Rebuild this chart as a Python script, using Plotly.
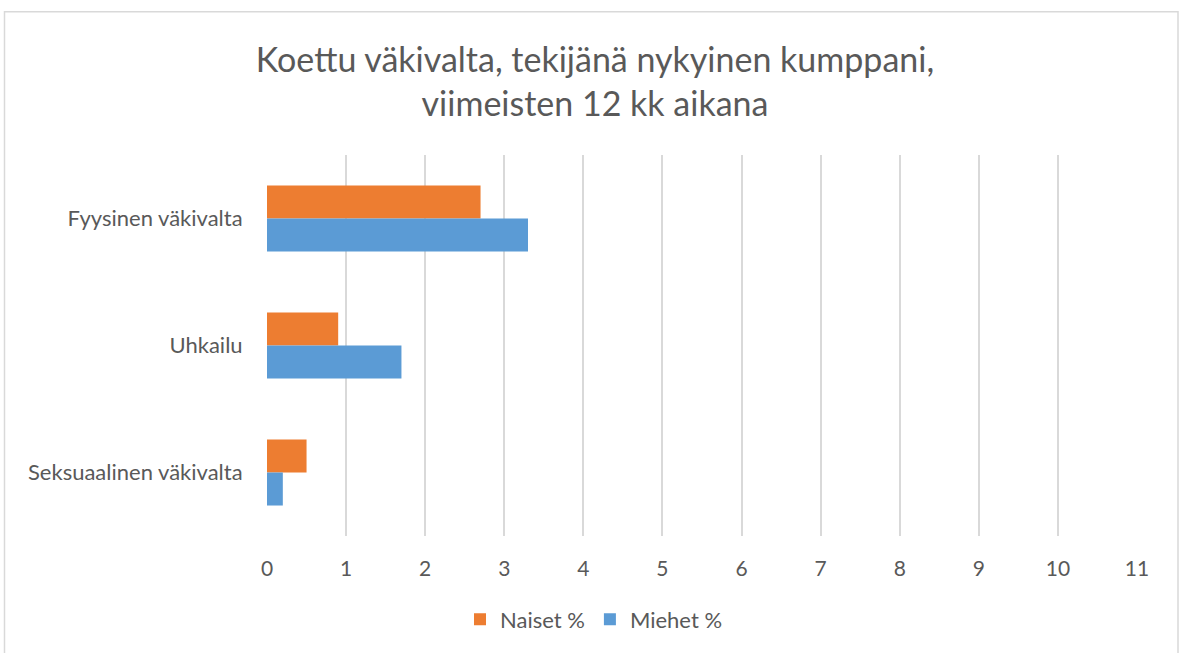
import plotly.graph_objects as go

categories = ["Fyysinen väkivalta", "Uhkailu", "Seksuaalinen väkivalta"]
naiset = [2.7, 0.9, 0.5]
miehet = [3.3, 1.7, 0.2]
series_names = ["Naiset %", "Miehet %"]
x_ticks = list(range(0, 12))

W, H = 1183, 653
# plot area in page pixels: x 267..1137, y 155..538
L, T = 267, 155
R = W - 1137
B = H - 538
pw, ph = W - L - R, H - T - B

def px_x(p):  # page px -> paper x
    return (p - L) / pw

def px_y(p):  # page px -> paper y
    return (H - B - p) / ph

FONT = "Lato"
TXT = "#595959"

fig = go.Figure()
fig.add_trace(go.Bar(y=categories, x=naiset, name=series_names[0], orientation="h",
                     marker=dict(color="#ED7D31", line=dict(width=0))))
fig.add_trace(go.Bar(y=categories, x=miehet, name=series_names[1], orientation="h",
                     marker=dict(color="#5B9BD5", line=dict(width=0))))

fig.update_layout(
    width=W, height=H,
    margin=dict(l=L, r=R, t=T, b=B),
    paper_bgcolor="white", plot_bgcolor="white",
    barmode="group", bargap=0.48, bargroupgap=0,
    font=dict(family=FONT, color=TXT),
    title=dict(text="Koettu väkivalta, tekijänä nykyinen kumppani,<br>viimeisten 12 kk aikana",
               x=595 / W, xanchor="center", y=1 - 72 / H, yanchor="middle",
               font=dict(family=FONT, size=34, color=TXT)),
    xaxis=dict(range=[0, 11], tickvals=x_ticks, ticktext=[str(v) for v in x_ticks],
               showgrid=True, gridcolor="#D9D9D9", gridwidth=1.5, zeroline=False,
               showline=False, ticks="outside", ticklen=14, tickcolor="rgba(0,0,0,0)",
               tickfont=dict(family=FONT, size=21, color=TXT), fixedrange=True),
    yaxis=dict(autorange="reversed", showgrid=False, zeroline=False, showline=False,
               ticks="outside", ticklen=19, tickcolor="rgba(0,0,0,0)",
               tickfont=dict(family=FONT, size=22, color=TXT)),
    legend=dict(orientation="h", x=px_x(594), xanchor="center",
                y=px_y(622), yanchor="middle",
                font=dict(family=FONT, size=22, color=TXT), itemwidth=30,
                traceorder="normal"),
    shapes=[dict(type="rect", xref="paper", yref="paper",
                 x0=px_x(4.5), x1=px_x(1178), y0=px_y(11), y1=px_y(690),
                 line=dict(color="#D9D9D9", width=1.5), fillcolor="rgba(0,0,0,0)", layer="below")],
)

fig.write_html("out.html", config={"displayModeBar": False},
               post_script="document.body.style.margin='0';")
